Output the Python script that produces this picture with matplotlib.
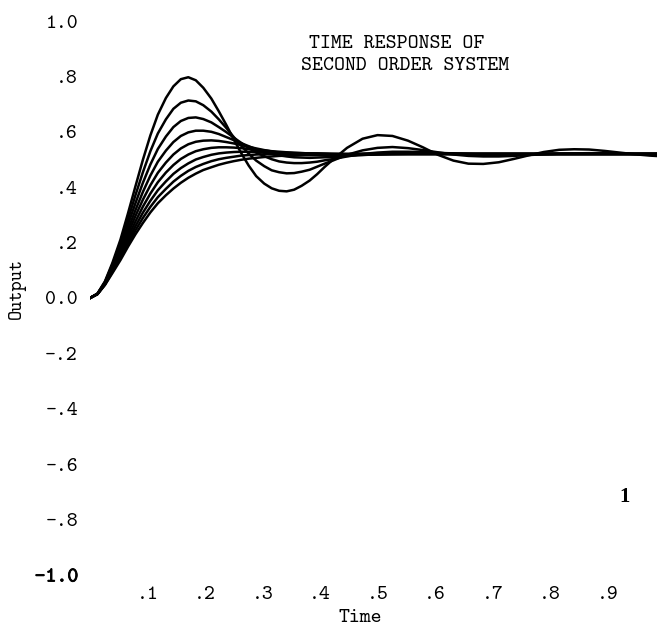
import numpy as np
import matplotlib
matplotlib.use('Agg')
import matplotlib.pyplot as plt
import matplotlib.patheffects as pe

plt.rcParams['axes.unicode_minus'] = False

# Zeitpunkte und abgelesene Sprungantworten (Daempfung 0.2 ... 1.0)
# dichter bis t=0.42 wegen der Spitzen
t = [0.000, 0.013, 0.026, 0.039, 0.053, 0.066, 0.079, 0.092, 0.105, 0.118,
     0.132, 0.145, 0.158, 0.171, 0.184, 0.197, 0.211, 0.224, 0.237, 0.250,
     0.263, 0.276, 0.289, 0.303, 0.316, 0.329, 0.342, 0.355, 0.368, 0.382,
     0.395, 0.408, 0.421,
     0.447, 0.474, 0.500, 0.526, 0.553, 0.579, 0.605, 0.632, 0.658, 0.684,
     0.711, 0.737, 0.763, 0.789, 0.816, 0.842, 0.868, 0.895, 0.921, 0.947,
     0.974, 1.000]

y_02 = [0.000, 0.016, 0.060, 0.127, 0.211, 0.305, 0.403, 0.499, 0.587, 0.662,
        0.722, 0.764, 0.790, 0.797, 0.786, 0.759, 0.720, 0.674, 0.625, 0.573,
        0.523, 0.478, 0.440, 0.413, 0.396, 0.387, 0.385, 0.391, 0.405, 0.424,
        0.447, 0.473, 0.497,
        0.542, 0.575, 0.588, 0.585, 0.568, 0.544, 0.517, 0.496, 0.485, 0.484,
        0.490, 0.502, 0.515, 0.527, 0.535, 0.537, 0.536, 0.531, 0.525, 0.519,
        0.514, 0.511]
y_03 = [0.000, 0.015, 0.058, 0.121, 0.198, 0.283, 0.371, 0.454, 0.530, 0.594,
        0.645, 0.683, 0.705, 0.713, 0.710, 0.696, 0.673, 0.645, 0.614, 0.581,
        0.550, 0.521, 0.496, 0.476, 0.461, 0.454, 0.450, 0.451, 0.456, 0.463,
        0.474, 0.485, 0.495,
        0.517, 0.533, 0.542, 0.545, 0.541, 0.534, 0.526, 0.518, 0.513, 0.511,
        0.511, 0.513, 0.516, 0.519, 0.521, 0.522, 0.523, 0.522, 0.521, 0.520,
        0.520, 0.519]
y_04 = [0.000, 0.015, 0.056, 0.116, 0.187, 0.265, 0.342, 0.416, 0.482, 0.538,
        0.583, 0.617, 0.639, 0.650, 0.652, 0.646, 0.634, 0.617, 0.599, 0.579,
        0.560, 0.541, 0.525, 0.512, 0.501, 0.493, 0.489, 0.487, 0.487, 0.489,
        0.492, 0.497, 0.501,
        0.511, 0.520, 0.525, 0.528, 0.528, 0.527, 0.524, 0.522, 0.520, 0.518,
        0.518, 0.518, 0.518, 0.519, 0.520, 0.520, 0.520, 0.520, 0.520, 0.520,
        0.520, 0.520]
y_05 = [0.000, 0.015, 0.054, 0.111, 0.177, 0.247, 0.317, 0.383, 0.442, 0.492,
        0.532, 0.563, 0.585, 0.598, 0.604, 0.604, 0.600, 0.592, 0.581, 0.570,
        0.559, 0.548, 0.537, 0.529, 0.521, 0.515, 0.511, 0.508, 0.507, 0.506,
        0.507, 0.508, 0.509,
        0.513, 0.516, 0.519, 0.521, 0.522, 0.522, 0.522, 0.521, 0.520, 0.520,
        0.520, 0.520, 0.520, 0.520, 0.520, 0.520, 0.520, 0.520, 0.520, 0.520,
        0.520, 0.520]
y_06 = [0.000, 0.015, 0.053, 0.106, 0.168, 0.232, 0.296, 0.355, 0.407, 0.452,
        0.489, 0.518, 0.540, 0.555, 0.564, 0.568, 0.569, 0.567, 0.563, 0.558,
        0.552, 0.546, 0.540, 0.534, 0.529, 0.525, 0.522, 0.519, 0.518, 0.516,
        0.516, 0.515, 0.515,
        0.516, 0.517, 0.518, 0.519, 0.520, 0.520, 0.520, 0.520, 0.520, 0.520,
        0.520, 0.520, 0.520, 0.520, 0.520, 0.520, 0.520, 0.520, 0.520, 0.520,
        0.520, 0.520]
y_07 = [0.000, 0.014, 0.051, 0.102, 0.159, 0.219, 0.276, 0.330, 0.377, 0.418,
        0.453, 0.480, 0.502, 0.518, 0.530, 0.537, 0.542, 0.544, 0.544, 0.543,
        0.541, 0.538, 0.535, 0.533, 0.530, 0.528, 0.526, 0.524, 0.523, 0.522,
        0.521, 0.520, 0.519,
        0.519, 0.520, 0.520, 0.520, 0.520, 0.520, 0.520, 0.520, 0.520, 0.520,
        0.520, 0.520, 0.520, 0.520, 0.520, 0.520, 0.520, 0.520, 0.520, 0.520,
        0.520, 0.520]
y_08 = [0.000, 0.014, 0.050, 0.098, 0.151, 0.206, 0.259, 0.308, 0.351, 0.389,
        0.421, 0.448, 0.469, 0.486, 0.500, 0.509, 0.517, 0.522, 0.525, 0.527,
        0.528, 0.528, 0.528, 0.527, 0.526, 0.526, 0.525, 0.524, 0.523, 0.522,
        0.522, 0.521, 0.521,
        0.520, 0.520, 0.520, 0.520, 0.520, 0.520, 0.520, 0.520, 0.520, 0.520,
        0.520, 0.520, 0.520, 0.520, 0.520, 0.520, 0.520, 0.520, 0.520, 0.520,
        0.520, 0.520]
y_09 = [0.000, 0.014, 0.048, 0.094, 0.144, 0.195, 0.244, 0.289, 0.329, 0.364,
        0.394, 0.420, 0.441, 0.459, 0.473, 0.484, 0.494, 0.501, 0.506, 0.510,
        0.514, 0.516, 0.518, 0.519, 0.520, 0.520, 0.521, 0.521, 0.521, 0.521,
        0.521, 0.521, 0.520,
        0.520, 0.520, 0.520, 0.520, 0.520, 0.520, 0.520, 0.520, 0.520, 0.520,
        0.520, 0.520, 0.520, 0.520, 0.520, 0.520, 0.520, 0.520, 0.520, 0.520,
        0.520, 0.520]
y_10 = [0.000, 0.014, 0.047, 0.090, 0.137, 0.185, 0.230, 0.271, 0.309, 0.342,
        0.371, 0.395, 0.416, 0.434, 0.449, 0.462, 0.472, 0.481, 0.488, 0.494,
        0.499, 0.503, 0.506, 0.509, 0.511, 0.513, 0.514, 0.515, 0.516, 0.517,
        0.518, 0.518, 0.518,
        0.519, 0.519, 0.520, 0.520, 0.520, 0.520, 0.520, 0.520, 0.520, 0.520,
        0.520, 0.520, 0.520, 0.520, 0.520, 0.520, 0.520, 0.520, 0.520, 0.520,
        0.520, 0.520]

xticks = [0.1, 0.2, 0.3, 0.4, 0.5, 0.6, 0.7, 0.8, 0.9]
xlabels = ['.1', '.2', '.3', '.4', '.5', '.6', '.7', '.8', '.9']
yticks = [1.0, 0.8, 0.6, 0.4, 0.2, 0.0, -0.2, -0.4, -0.6, -0.8, -1.0]
ylabels = ['1.0', '.8', '.6', '.4', '.2', '0.0', '-.2', '-.4', '-.6', '-.8', '-1.0']

font = 'cmtt10'
fs = 15

fig = plt.figure(figsize=(6.57, 6.29), dpi=100)
ax = fig.add_axes([90/657, 54/629, 567/657, 554/629])

for y in [y_02, y_03, y_04, y_05, y_06, y_07, y_08, y_09, y_10]:
    ax.plot(t, y, color='black', lw=1.8, solid_joinstyle='round')

ax.set_xlim(0, 567/575)
ax.set_ylim(-1.0, 1.0)
ax.set_xticks(xticks)
ax.set_xticklabels(xlabels, fontfamily=font, fontsize=fs)
ax.set_yticks(yticks)
ax.set_yticklabels(ylabels, fontfamily=font, fontsize=fs)
# -1.0 ist im Original etwas fetter gedruckt
ax.yaxis.get_ticklabels()[-1].set_path_effects(
    [pe.withStroke(linewidth=0.6, foreground='black')])
ax.tick_params(axis='y', length=0, pad=8.6)
ax.tick_params(axis='x', length=0, pad=8)
for s in ax.spines.values():
    s.set_visible(False)

fig.text(397/657, 1-44/629, 'TIME RESPONSE OF', ha='center', va='center',
         fontfamily=font, fontsize=fs)
fig.text(405/657, 1-66/629, 'SECOND ORDER SYSTEM', ha='center', va='center',
         fontfamily=font, fontsize=fs)
fig.text(360/657, 1-618/629, 'Time', ha='center', va='center',
         fontfamily=font, fontsize=fs)
fig.text(17/657, 1-288/629, 'Output', ha='center', va='center', rotation=90,
         fontfamily=font, fontsize=14)
fig.text(625/657, 1-497/629, '1', ha='center', va='center',
         fontfamily='Liberation Serif', fontweight='bold', fontsize=15)

fig.savefig('out.png', dpi=100)
